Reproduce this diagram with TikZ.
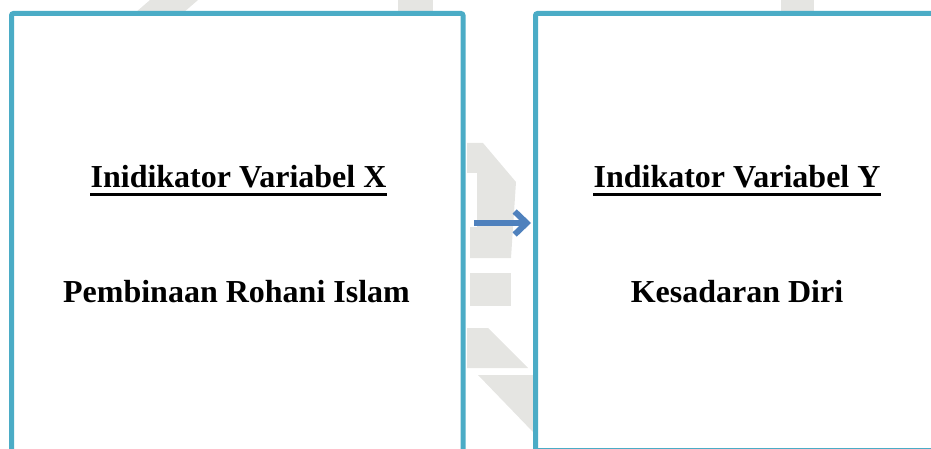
\documentclass[tikz,border=0pt]{standalone}
\usepackage{fontspec}
\setmainfont{Liberation Serif}
\usetikzlibrary{arrows.meta}
\definecolor{boxline}{HTML}{4BACC6}
\definecolor{arrowblue}{HTML}{4F81BD}
\definecolor{wmark}{HTML}{E5E5E2}
\tikzset{
  panel/.style={draw=boxline, line width=5pt, fill=white, rounded corners=2pt,
    inner sep=0pt, outer sep=0pt},
  title/.style={font=\fontsize{32}{38}\selectfont\bfseries, inner sep=0pt, anchor=base},
  uline/.style={line width=3pt},
  wm/.style={fill=wmark, draw=none},
  flow/.style={draw=arrowblue, line width=6pt, -{Straight Barb[length=12pt,width=23pt]}}
}
\begin{document}
\begin{tikzpicture}[x=1pt,y=-1pt]
\useasboundingbox (0,0) rectangle (931,449);
\clip (0,0) rectangle (931,449);
% faint watermark
\fill[wm] (150,0) -- (198,0) -- (183,13) -- (135,13) -- cycle;
\fill[wm] (398,0) rectangle (433,13);
\fill[wm] (781,0) rectangle (814,13);
\fill[wm] (467,143) -- (483,143) -- (516,182) -- (511,258) -- (470,258) -- (470,227) -- (477,227) -- (477,173) -- (467,173) -- cycle;
\fill[wm] (470,273) rectangle (511,306);
\fill[wm] (467,328) -- (488,328) -- (528,368) -- (467,368) -- cycle;
\fill[wm] (478,375) -- (533,375) -- (533,432) -- cycle;
% panels
\node[panel, minimum width=451.5pt, minimum height=446.5pt] (b1) at (237.25,236.75) {};
\node[panel, minimum width=409.5pt, minimum height=437pt] (b2) at (740.25,232) {};
% texts
\node[title] (t1) at (238.5,188) {Inidikator Variabel X};
\node[title] (s1) at (236.5,302) {Pembinaan Rohani Islam};
\node[title] (t2) at (737,188) {Indikator Variabel Y};
\node[title] (s2) at (737,302) {Kesadaran Diri};
\draw[uline] ([yshift=-6.5pt]t1.base west) -- ([yshift=-6.5pt]t1.base east);
\draw[uline] ([yshift=-6.5pt]t2.base west) -- ([yshift=-6.5pt]t2.base east);
% arrow
\coordinate (as) at (474,223);
\coordinate (ae) at (531,223);
\draw[flow] (as) -- (ae);
\end{tikzpicture}
\end{document}
